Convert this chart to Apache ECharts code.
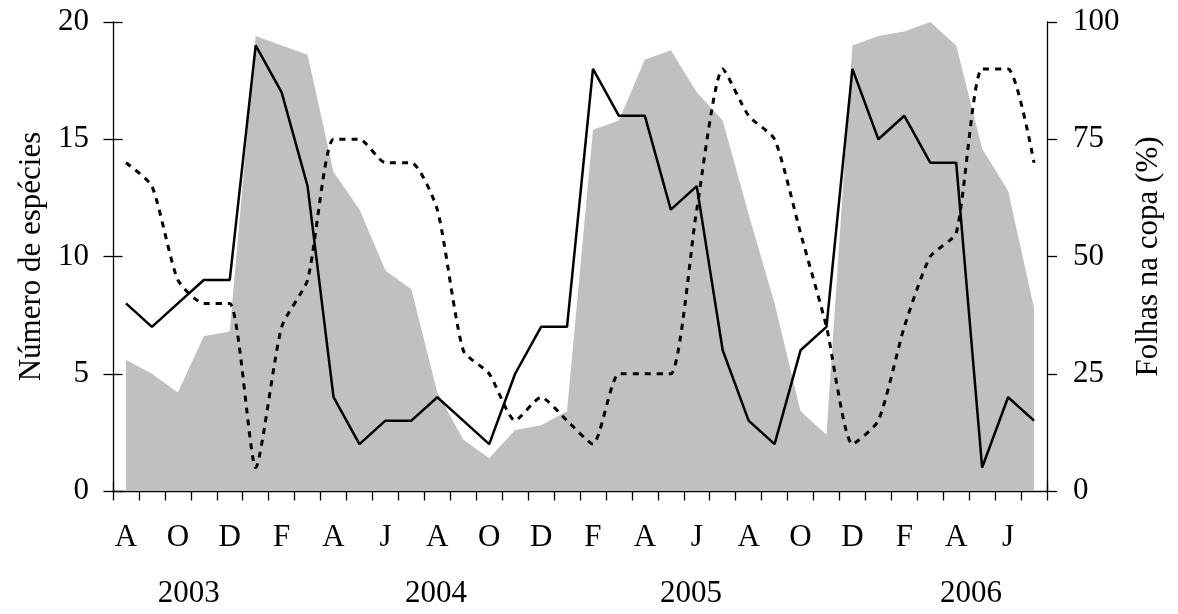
<!DOCTYPE html>
<html>
<head>
<meta charset="utf-8">
<script src="https://cdn.jsdelivr.net/npm/echarts@6/dist/echarts.min.js"></script>
<style>
html,body{margin:0;padding:0;background:#fff;}
#chart{width:1178px;height:614px;}
</style>
</head>
<body>
<div id="chart"></div>
<script>
// Months Aug 2003 .. Jul 2006
var months = ['A','S','O','N','D','J','F','M','A','M','J','J',
              'A','S','O','N','D','J','F','M','A','M','J','J',
              'A','S','O','N','D','J','F','M','A','M','J','J'];
var years = ['2003','2004','2005','2006'];
// Número de espécies (solid)
var speciesSolid = [8,7,8,9,9,19,17,13,4,2,3,3,4,3,2,5,7,7,18,16,16,12,13,6,3,2,6,7,18,15,16,14,14,1,4,3];
// Número de espécies (dashed)
var speciesDashed = [14,13,9,8,8,1,7,9,15,15,14,14,12,6,5,3,4,3,2,5,5,5,12,18,16,15,11,7,2,3,7,10,11,18,18,14];
// Folhas na copa (%)
var leafCover = [28,25,21,33,34,97,95,93,68,60,47,43,21,11,7,13,14,17,77,79,92,94,85,79,59,40,17,12,95,97,98,100,95,73,64,39];

var FONT = 'Liberation Serif';
var chart = echarts.init(document.getElementById('chart'));
var axisLine = {show:true, lineStyle:{color:'#000', width:1.3}};
var tickStyle = {color:'#000', width:1.3};
var option = {
  animation:false,
  backgroundColor:'#fff',
  textStyle:{fontFamily:FONT},
  grid:{left:113, right:131, top:22, bottom:123},
  xAxis:[{
    type:'category', data:months, boundaryGap:true, position:'bottom',
    axisLine:axisLine,
    axisTick:{show:true, interval:0, length:9.5, lineStyle:tickStyle},
    axisLabel:{interval:1, margin:31, color:'#000', fontFamily:FONT, fontSize:31},
    splitLine:{show:false}
  },{
    type:'category', data:months, boundaryGap:true, position:'bottom', offset:0,
    axisLine:{show:false},
    axisTick:{show:true, inside:true, interval:0, length:9.5, lineStyle:tickStyle},
    axisLabel:{show:false}, splitLine:{show:false}
  }],
  yAxis:[{
    type:'value', min:0, max:20, interval:5, position:'left',
    name:'Número de espécies', nameLocation:'middle', nameRotate:90, nameGap:66,
    nameTextStyle:{color:'#000', fontFamily:FONT, fontSize:31},
    axisLine:axisLine,
    axisTick:{show:true, length:9.5, lineStyle:tickStyle},
    axisLabel:{margin:24, color:'#000', fontFamily:FONT, fontSize:31},
    splitLine:{show:false}
  },{
    type:'value', min:0, max:100, interval:25, position:'right',
    name:'Folhas na copa (%)', nameLocation:'middle', nameRotate:90, nameGap:86,
    nameTextStyle:{color:'#000', fontFamily:FONT, fontSize:31},
    axisLine:axisLine,
    axisTick:{show:true, length:10, lineStyle:tickStyle},
    axisLabel:{margin:26, color:'#000', fontFamily:FONT, fontSize:31},
    splitLine:{show:false}
  },{
    type:'value', min:0, max:20, interval:5, position:'left', offset:0,
    axisLine:{show:false},
    axisTick:{show:true, inside:true, length:9.5, lineStyle:tickStyle},
    axisLabel:{show:false}, splitLine:{show:false}
  }],
  series:[{
    type:'line', name:'Folhas', data:leafCover, xAxisIndex:0, yAxisIndex:1,
    symbol:'none', lineStyle:{width:0, color:'#c0c0c0'},
    areaStyle:{color:'#c0c0c0', opacity:1}, z:1
  },{
    type:'line', name:'dashed', data:speciesDashed, xAxisIndex:0, yAxisIndex:0,
    symbol:'none', smooth:0.2,
    lineStyle:{width:3, color:'#000', type:[6,6]}, z:3
  },{
    type:'line', name:'solid', data:speciesSolid, xAxisIndex:0, yAxisIndex:0,
    symbol:'none', lineStyle:{width:2.5, color:'#000'}, z:4
  }],
  graphic:[
    {type:'text', x:188.7, y:593.5, style:{text:years[0], font:'31px "Liberation Serif"', fill:'#000', align:'center', verticalAlign:'middle'}},
    {type:'text', x:436, y:593.5, style:{text:years[1], font:'31px "Liberation Serif"', fill:'#000', align:'center', verticalAlign:'middle'}},
    {type:'text', x:691, y:593.5, style:{text:years[2], font:'31px "Liberation Serif"', fill:'#000', align:'center', verticalAlign:'middle'}},
    {type:'text', x:971, y:593.5, style:{text:years[3], font:'31px "Liberation Serif"', fill:'#000', align:'center', verticalAlign:'middle'}}
  ]
};
chart.setOption(option);
</script>
</body>
</html>
